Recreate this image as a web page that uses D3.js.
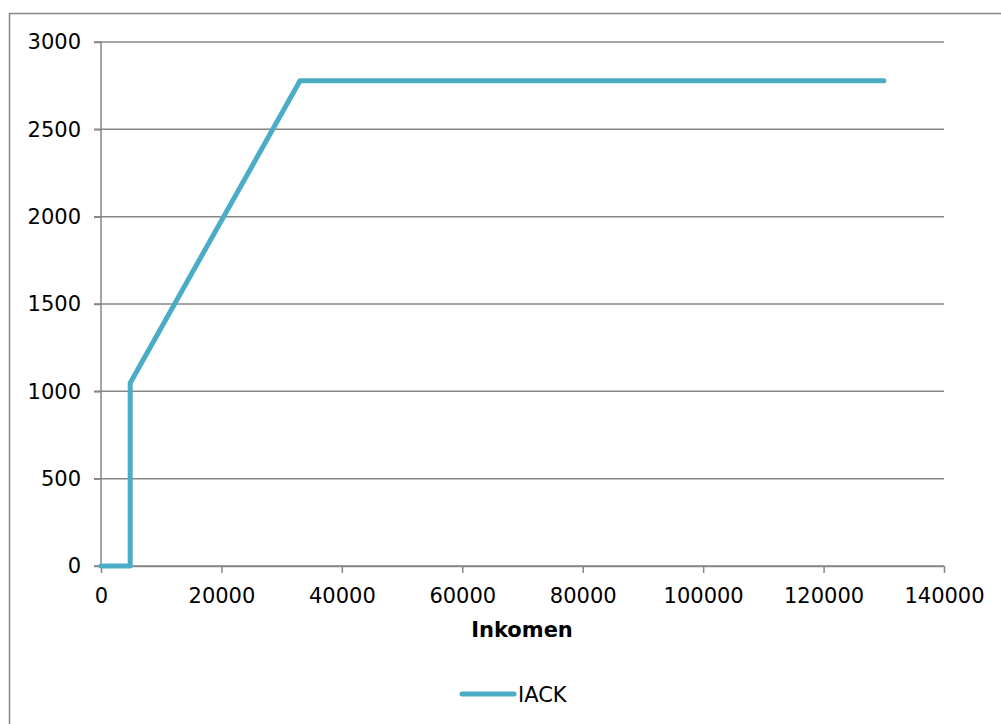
<!DOCTYPE html>
<html><head><meta charset="utf-8">
<script src="https://cdn.jsdelivr.net/npm/d3@7"></script>
<style>body{margin:0;background:#fff}svg{display:block}</style>
</head><body>
<script>
const incomes = [0, 4850, 4850, 33050, 130000];
const iack = [0, 0, 1048, 2778, 2778];
const xTicks = [0, 20000, 40000, 60000, 80000, 100000, 120000, 140000];
const yTicks = [0, 500, 1000, 1500, 2000, 2500, 3000];
const seriesName = "IACK";
const xTitle = "Inkomen";

const W = 1001, H = 724;
const svg = d3.select("body").append("svg").attr("width", W).attr("height", H);
const font = "DejaVu Sans, Verdana, sans-serif";
const grey = "#868686";
const col = "#4BACC6";

svg.append("rect").attr("x", 9.5).attr("y", 13.5).attr("width", 995).attr("height", 720)
  .attr("fill", "none").attr("stroke", grey).attr("stroke-width", 1.5);

const x = d3.scaleLinear().domain([0, 140000]).range([101, 944]);
const y = d3.scaleLinear().domain([0, 3000]).range([566, 42]);

// gridlines
svg.append("g").selectAll("line").data(yTicks).join("line")
  .attr("x1", 94).attr("x2", 944).attr("y1", d => y(d)).attr("y2", d => y(d))
  .attr("stroke", grey).attr("stroke-width", 1.5);

// y axis line
svg.append("line").attr("x1", 101).attr("x2", 101).attr("y1", 42).attr("y2", 566)
  .attr("stroke", grey).attr("stroke-width", 1.5);

// x axis
const xa = svg.append("g").attr("transform", "translate(0,566)")
  .call(d3.axisBottom(x).tickValues(xTicks).tickFormat(d3.format("d")).tickSize(7).tickSizeOuter(0));
xa.select(".domain").attr("stroke", grey).attr("stroke-width", 1.5);
xa.selectAll(".tick line").attr("stroke", grey).attr("stroke-width", 1.5);
xa.selectAll(".tick text").attr("fill", "#000").attr("font-family", font).attr("font-size", 21).attr("dy", "0").attr("y", 36.5);

// y axis labels
const ya = svg.append("g").attr("transform", "translate(101,0)")
  .call(d3.axisLeft(y).tickValues(yTicks).tickFormat(d3.format("d")).tickSize(7).tickSizeOuter(0));
ya.select(".domain").remove();
ya.selectAll(".tick line").attr("stroke", grey).attr("stroke-width", 1.5);
ya.selectAll(".tick text").attr("fill", "#000").attr("font-family", font).attr("font-size", 21).attr("x", -20);

// line
const data = incomes.map((v, i) => [v, iack[i]]);
svg.append("path").datum(data)
  .attr("d", d3.line().x(d => x(d[0])).y(d => y(d[1])))
  .attr("fill", "none").attr("stroke", col).attr("stroke-width", 5)
  .attr("stroke-linejoin", "round").attr("stroke-linecap", "round");

// x title
svg.append("text").attr("x", 522).attr("y", 637).attr("text-anchor", "middle")
  .attr("font-family", font).attr("font-size", 21).attr("font-weight", "bold").text(xTitle);

// legend
svg.append("line").attr("x1", 462).attr("x2", 514).attr("y1", 694).attr("y2", 694)
  .attr("stroke", col).attr("stroke-width", 5).attr("stroke-linecap", "round");
svg.append("text").attr("x", 518).attr("y", 702).attr("font-family", font).attr("font-size", 21).text(seriesName);
</script>
</body></html>
